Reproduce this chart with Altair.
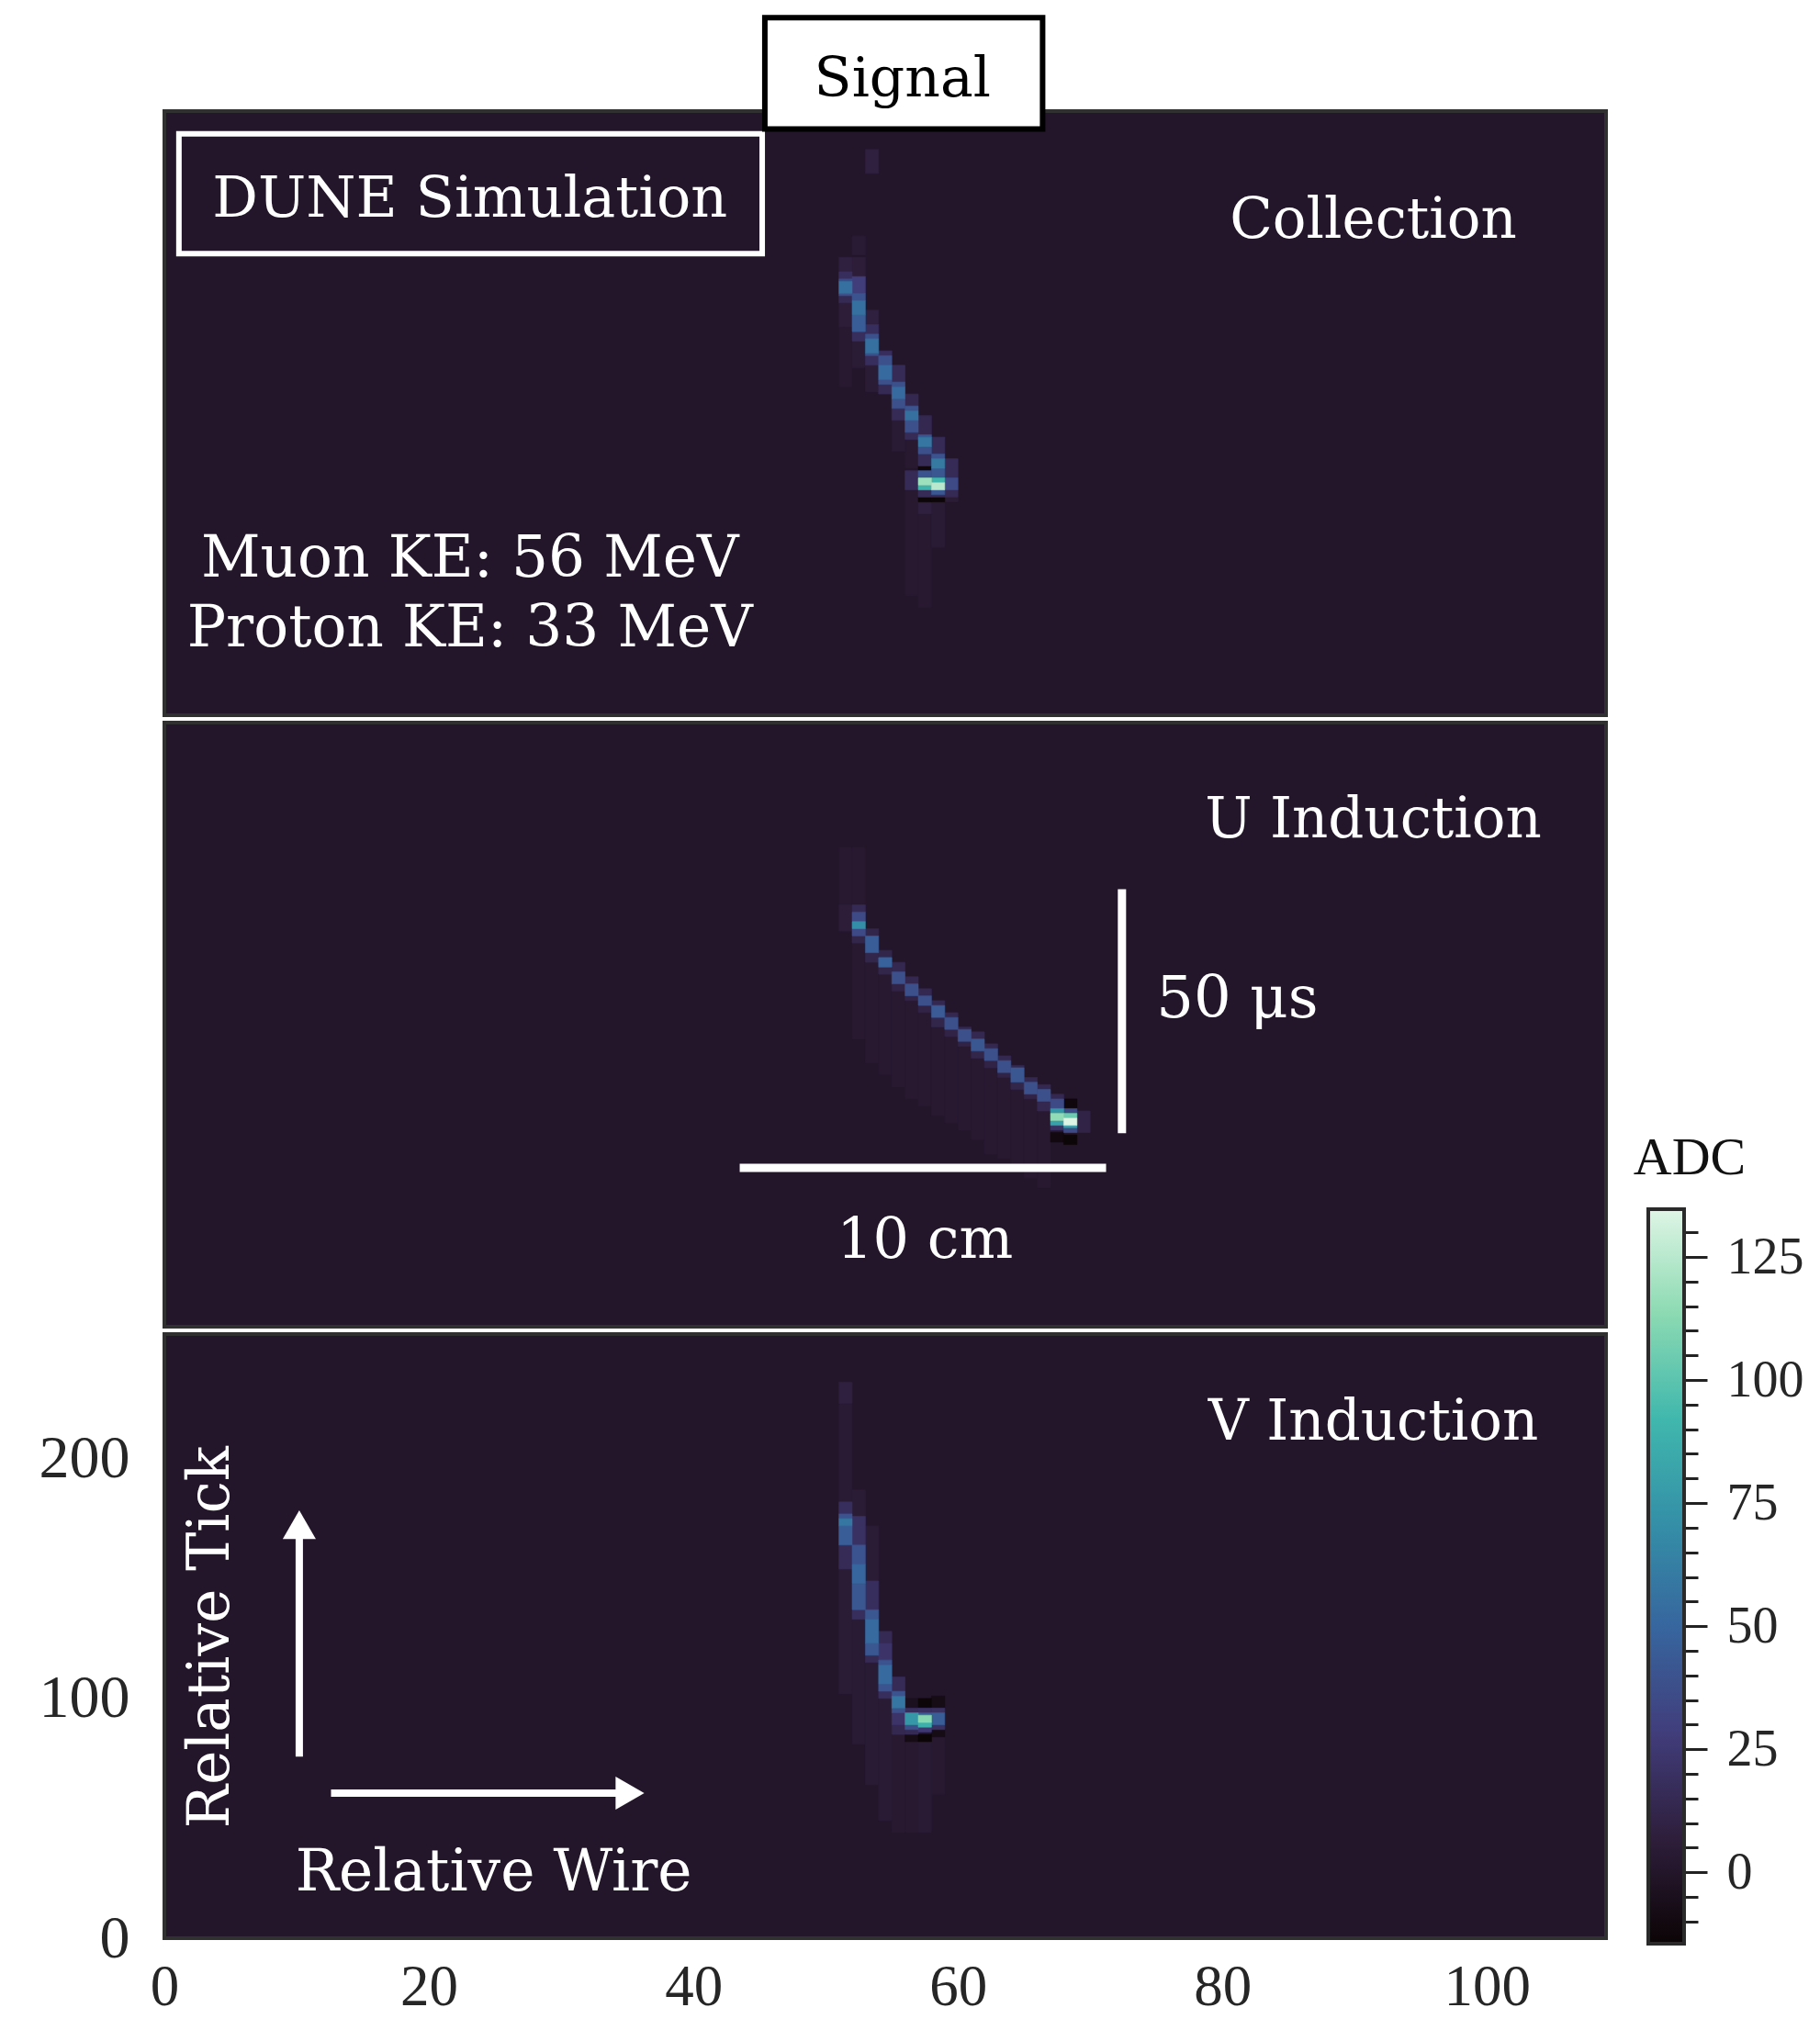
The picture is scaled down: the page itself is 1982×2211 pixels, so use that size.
import altair as alt
import pandas as pd

# ---------------- data ----------------
# heatmap cells: (wire, tick_start, tick_end, ADC)
COLLECTION_CELLS = [
    (51, 137, 162, 3), (51, 162, 172, 6), (51, 172, 175, 15), (51, 175, 176, 38),
    (51, 176, 181, 55), (51, 181, 182, 35), (51, 182, 185, 18), (51, 185, 191, 8),
    (52, 192, 200, 4), (52, 145, 156, 5), (52, 156, 160, 18), (52, 160, 167, 45),
    (52, 167, 173, 55), (52, 173, 176, 40), (52, 176, 183, 28), (52, 183, 191, 6),
    (53, 226, 236, 8), (53, 135, 146, 5), (53, 146, 150, 18), (53, 150, 151, 38),
    (53, 151, 157, 55), (53, 157, 159, 38), (53, 159, 163, 18), (53, 163, 169, 8),
    (54, 134, 138, 15), (54, 138, 140, 38), (54, 140, 146, 52), (54, 146, 150, 38),
    (54, 150, 152, 18),
    (55, 110, 123, 4), (55, 123, 128, 16), (55, 128, 132, 38), (55, 132, 137, 52),
    (55, 137, 139, 38), (55, 139, 146, 16),
    (56, 50, 94, 3), (56, 94, 102, 16), (56, 103, 115, 3), (56, 115, 118, 16),
    (56, 118, 123, 38), (56, 123, 127, 55), (56, 127, 129, 40), (56, 129, 134, 14),
    (57, 45, 84, 3), (57, 84, 89, 8), (57, 89, 91, -13), (57, 91, 94, 16),
    (57, 94, 96, 90), (57, 96, 99, 118), (57, 99, 102, 40), (57, 102, 104, -12),
    (57, 104, 109, 16), (57, 109, 112, 38), (57, 112, 116, 58), (57, 116, 117, 40),
    (57, 117, 125, 14),
    (58, 70, 89, 4), (58, 89, 91, -13), (58, 91, 92, 15), (58, 92, 94, 42),
    (58, 94, 97, 125), (58, 97, 99, 92), (58, 99, 103, 42), (58, 103, 107, 60),
    (58, 107, 109, 40), (58, 109, 116, 16),
    (59, 89, 91, 5), (59, 91, 94, 15), (59, 94, 99, 35), (59, 99, 107, 16),
]

U_CELLS = [
    (51, 176, 200, 3), (52, 176, 200, 3), (51, 165, 176, 6),
    (52, 120, 160, 3), (53, 110, 152, 3), (54, 105, 147, 3), (55, 100, 140, 3),
    (56, 95, 136, 3), (57, 92, 131, 3), (58, 88, 125, 3), (59, 85, 121, 3),
    (60, 82, 117, 3), (61, 78, 112, 3), (62, 72, 108, 3), (63, 70, 104, 3),
    (64, 66, 99, 3), (65, 62, 95, 3), (66, 58, 90, 3),
    (52, 173, 176, 15), (52, 169, 173, 35), (52, 166, 169, 70), (52, 163, 166, 35),
    (52, 160, 163, 12),
    (53, 163, 166, 12), (53, 156, 163, 45), (53, 152, 156, 12),
    (54, 154, 157, 12), (54, 150, 154, 48), (54, 147, 150, 12),
    (55, 148, 152, 14), (55, 143, 148, 38), (55, 140, 143, 10),
    (56, 143, 146, 14), (56, 138, 143, 38), (56, 136, 138, 10),
    (57, 138, 141, 14), (57, 134, 138, 38), (57, 131, 134, 10),
    (58, 134, 136, 14), (58, 129, 134, 44), (58, 125, 129, 12),
    (59, 129, 131, 14), (59, 124, 129, 38), (59, 121, 124, 10),
    (60, 124, 125, 14), (60, 119, 124, 38), (60, 117, 119, 10),
    (61, 120, 123, 14), (61, 115, 120, 42), (61, 112, 115, 12),
    (62, 116, 118, 14), (62, 111, 116, 38), (62, 108, 111, 10),
    (63, 111, 113, 14), (63, 106, 111, 38), (63, 104, 106, 10),
    (64, 108, 109, 14), (64, 102, 108, 42), (64, 99, 102, 12),
    (65, 102, 104, 14), (65, 97, 102, 38), (65, 95, 97, 10),
    (66, 99, 101, 14), (66, 94, 99, 38), (66, 90, 94, 14),
    (67, 95, 97, 14), (67, 91, 95, 35), (67, 89, 91, 75), (67, 86, 89, 115),
    (67, 84, 86, 80), (67, 82, 84, 20), (67, 77, 81, -10),
    (68, 91, 95, -12), (68, 89, 91, 35), (68, 87, 89, 105), (68, 84, 87, 134),
    (68, 83, 84, 78), (68, 81, 83, 35), (68, 76, 80, -13),
    (69, 81, 90, 10),
]

V_CELLS = [
    (51, 223, 232, 8), (51, 182, 223, 4), (51, 102, 154, 5),
    (52, 176, 187, 5), (52, 81, 133, 4), (53, 149, 172, 5), (53, 64, 115, 4),
    (54, 49, 100, 4), (55, 44, 85, 3), (56, 44, 82, 3), (57, 44, 82, 4),
    (58, 60, 84, 3),
    (51, 177, 182, 18), (51, 175, 177, 40), (51, 172, 175, 58), (51, 164, 172, 45),
    (51, 154, 164, 16),
    (52, 164, 176, 20), (52, 156, 164, 40), (52, 148, 156, 50), (52, 137, 148, 42),
    (52, 133, 137, 18),
    (53, 137, 149, 18), (53, 133, 137, 42), (53, 123, 133, 52), (53, 118, 123, 42),
    (53, 115, 118, 15),
    (54, 123, 128, 15), (54, 116, 123, 22), (54, 114, 116, 40), (54, 106, 114, 52),
    (54, 103, 106, 40), (54, 100, 103, 18),
    (55, 103, 109, 16), (55, 101, 103, 40), (55, 96, 101, 58), (55, 94, 96, 38),
    (55, 89, 94, 22), (55, 85, 89, 14),
    (56, 96, 100, -5), (56, 94, 96, 18), (56, 89, 94, 75), (56, 87, 89, 38),
    (56, 85, 87, 15), (56, 82, 85, -8),
    (57, 96, 100, -13), (57, 94, 96, 20), (57, 93, 94, 45), (57, 90, 93, 112),
    (57, 88, 90, 88), (57, 86, 88, 25), (57, 82, 85, -14),
    (58, 96, 101, -8), (58, 94, 96, 20), (58, 89, 94, 45), (58, 87, 89, 20),
    (58, 84, 87, -8),
]

PANEL_NAMES = ["Collection", "U Induction", "V Induction"]
PANEL_NAME_TICK = [199, 204, 208]
X_TICKS = [0, 20, 40, 60, 80, 100]
Y_TICKS = [0, 100, 200]
CB_TICKS = [-10, -5, 0, 5, 10, 15, 20, 25, 30, 35, 40, 45, 50, 55, 60, 65, 70, 75,
            80, 85, 90, 95, 100, 105, 110, 115, 120, 125, 130]
ADC_RANGE = [-14.5, 134.7]

# mako colormap stops
MAKO = ["#0b0405", "#2e1e3b", "#413d7b", "#37659e", "#348fa7", "#40b7ad",
        "#8bdab2", "#def5e5"]
MAKO_DOMAIN = [-14.5, 6.81, 28.13, 49.44, 70.76, 92.07, 113.39, 134.7]
MAKO_OFFSETS = [0.0, 0.1429, 0.2857, 0.4286, 0.5714, 0.7143, 0.8571, 1.0]

# ---------------- layout ----------------
W, H = 1570, 658
BG = "#23162a"
ANN_FONT = "DejaVu Serif"
NUM_FONT = "Liberation Serif"

xs = alt.Scale(domain=[0, 109], nice=False, zero=False)
ys = alt.Scale(domain=[0, 252], nice=False, zero=False)
cs = alt.Scale(domain=MAKO_DOMAIN, range=MAKO, interpolate="rgb")

X_AXIS = alt.Axis(values=X_TICKS, ticks=False, domain=False, grid=False, title=None,
                  labelFont=NUM_FONT, labelFontSize=63, labelColor="#262626",
                  labelPadding=22, labelFlush=False, labelOverlap=False)
Y_AXIS = alt.Axis(values=Y_TICKS, ticks=False, domain=False, grid=False, title=None,
                  labelFont=NUM_FONT, labelFontSize=66, labelColor="#262626",
                  labelPadding=38, labelFlush=False, labelOverlap=False)


def pos(ax, ay, xf="wire", yf="tick"):
    return dict(x=alt.X(f"{xf}:Q", scale=xs, axis=ax), y=alt.Y(f"{yf}:Q", scale=ys, axis=ay))


def cells_layer(cells, ax, ay):
    df = pd.DataFrame(cells, columns=["wire", "t0", "t1", "adc"])
    df["wire2"] = df["wire"] + 1
    df["mag"] = df["adc"].abs()
    df = df.sort_values("mag", kind="stable")
    return alt.Chart(df).mark_rect(strokeWidth=0.6).encode(
        x=alt.X("wire:Q", scale=xs, axis=ax), x2="wire2:Q",
        y=alt.Y("t0:Q", scale=ys, axis=ay), y2="t1:Q",
        color=alt.Color("adc:Q", scale=cs, legend=None),
        stroke=alt.Stroke("adc:Q", scale=cs, legend=None),
    )


def text_layer(rows, ax, ay, **kw):
    df = pd.DataFrame(rows, columns=["wire", "tick", "label"])
    return alt.Chart(df).mark_text(**kw).encode(text="label:N", **pos(ax, ay))


def box_layer(rows, ax, ay, **kw):
    df = pd.DataFrame(rows, columns=["w0", "w1", "t0", "t1"])
    return alt.Chart(df).mark_rect(**kw).encode(
        x=alt.X("w0:Q", scale=xs, axis=ax), x2="w1:Q",
        y=alt.Y("t0:Q", scale=ys, axis=ay), y2="t1:Q")


def hrule(rows, ax, ay, **kw):
    df = pd.DataFrame(rows, columns=["w0", "w1", "tick"])
    return alt.Chart(df).mark_rule(**kw).encode(
        x=alt.X("w0:Q", scale=xs, axis=ax), x2="w1:Q",
        y=alt.Y("tick:Q", scale=ys, axis=ay))


def vrule(rows, ax, ay, **kw):
    df = pd.DataFrame(rows, columns=["wire", "t0", "t1"])
    return alt.Chart(df).mark_rule(**kw).encode(
        x=alt.X("wire:Q", scale=xs, axis=ax),
        y=alt.Y("t0:Q", scale=ys, axis=ay), y2="t1:Q")


def point_layer(rows, ax, ay, **kw):
    df = pd.DataFrame(rows, columns=["wire", "tick"])
    return alt.Chart(df).mark_point(**kw).encode(**pos(ax, ay))


def panel_label(i, ax, ay):
    return text_layer([(91.4, PANEL_NAME_TICK[i], PANEL_NAMES[i])], ax, ay,
                      font=ANN_FONT, fontSize=61, color="white", align="center",
                      baseline="alphabetic")


# ---- panel 1: Collection ----
p1 = alt.layer(
    cells_layer(COLLECTION_CELLS, None, None),
    box_layer([(1.1, 45.2, 192.5, 242.5)], None, None,
              fill=BG, stroke="white", strokeWidth=6),
    text_layer([(23.1, 208, "DUNE Simulation")], None, None, font=ANN_FONT,
               fontSize=62, color="white", align="center", baseline="alphabetic"),
    panel_label(0, None, None),
    text_layer([(23.1, 58, "Muon KE: 56 MeV"), (23.1, 28.6, "Proton KE: 33 MeV")],
               None, None, font=ANN_FONT, fontSize=63, color="white",
               align="center", baseline="alphabetic"),
    box_layer([(45.4, 66.4, 244.5, 291)], None, None,
              fill="white", stroke="black", strokeWidth=6),
    text_layer([(55.8, 258, "Signal")], None, None, font=ANN_FONT, fontSize=60,
               color="black", align="center", baseline="alphabetic"),
).properties(width=W, height=H)

# ---- panel 2: U Induction ----
p2 = alt.layer(
    cells_layer(U_CELLS, None, None),
    panel_label(1, None, None),
    hrule([(43.5, 71.2, 66.3)], None, None, color="white", strokeWidth=9),
    vrule([(72.4, 80.7, 182.5)], None, None, color="white", strokeWidth=9),
    text_layer([(75.0, 129, "50 \u03bcs")], None, None, font=ANN_FONT, fontSize=64,
               color="white", align="left", baseline="alphabetic"),
    text_layer([(57.5, 28.6, "10 cm")], None, None, font=ANN_FONT, fontSize=62,
               color="white", align="center", baseline="alphabetic"),
).properties(width=W, height=H)

# ---- panel 3: V Induction (with axes) ----
ax, ay = X_AXIS, Y_AXIS
p3_inner = alt.layer(
    cells_layer(V_CELLS, ax, ay),
    panel_label(2, ax, ay),
    vrule([(10.2, 75.7, 171)], ax, ay, color="white", strokeWidth=8),
    point_layer([(10.2, 172.5)], ax, ay, shape="triangle-up", filled=True,
                size=1300, color="white", opacity=1, strokeWidth=0),
    hrule([(12.6, 34.5, 60.5)], ax, ay, color="white", strokeWidth=8),
    point_layer([(35.2, 60.5)], ax, ay, shape="triangle-right", filled=True,
                size=1300, color="white", opacity=1, strokeWidth=0),
    text_layer([(3.55, 125.5, "Relative Tick")], ax, ay, font=ANN_FONT, fontSize=63,
               color="white", align="center", baseline="middle", angle=270),
    text_layer([(24.9, 20.1, "Relative Wire")], ax, ay, font=ANN_FONT, fontSize=63,
               color="white", align="center", baseline="alphabetic"),
)

# ---- colour bar (drawn beside panel 3) ----
cb_scale = alt.Scale(domain=ADC_RANGE, range=[664, -136], nice=False, zero=False)
CB_AXIS = alt.Axis(
    orient="right", offset=85, values=CB_TICKS, grid=False, domain=False, title=None,
    labelExpr="datum.value % 25 === 0 ? datum.label : ''",
    tickSize={"condition": {"test": "datum.value % 25 === 0", "value": 25}, "value": 15},
    tickWidth=3, tickColor="#222222", labelFont=NUM_FONT, labelFontSize=56,
    labelColor="#262626", labelPadding=21, labelFlush=False, labelOverlap=False)

gradient = alt.LinearGradient(
    gradient="linear", x1=0, x2=0, y1=1, y2=0,
    stops=[alt.GradientStop(offset=o, color=c) for o, c in zip(MAKO_OFFSETS, MAKO)])

cb_df = pd.DataFrame({"lo": [ADC_RANGE[0]], "hi": [ADC_RANGE[1]]})
cb_rect = alt.Chart(cb_df).mark_rect(fill=gradient, stroke="#2a2a2a", strokeWidth=4).encode(
    x=alt.value(1616), x2=alt.value(1655),
    y=alt.Y("lo:Q", scale=cb_scale, axis=CB_AXIS), y2="hi:Q")
cb_title = alt.Chart(pd.DataFrame({"label": ["ADC"]})).mark_text(
    font=NUM_FONT, fontSize=58, color="#111111", align="center", baseline="alphabetic"
).encode(text="label:N", x=alt.value(1661), y=alt.value(-174))

p3 = alt.layer(p3_inner, alt.layer(cb_rect, cb_title)).resolve_scale(
    y="independent").properties(width=W, height=H)

chart = alt.vconcat(p1, p2, p3, spacing=8, bounds="flush").properties(
    padding={"left": 32, "top": 6, "right": 0, "bottom": 0}
).configure_view(fill=BG, stroke="#303030", strokeWidth=4)

chart.save("out.html", embed_options={"renderer": "svg", "actions": False})
